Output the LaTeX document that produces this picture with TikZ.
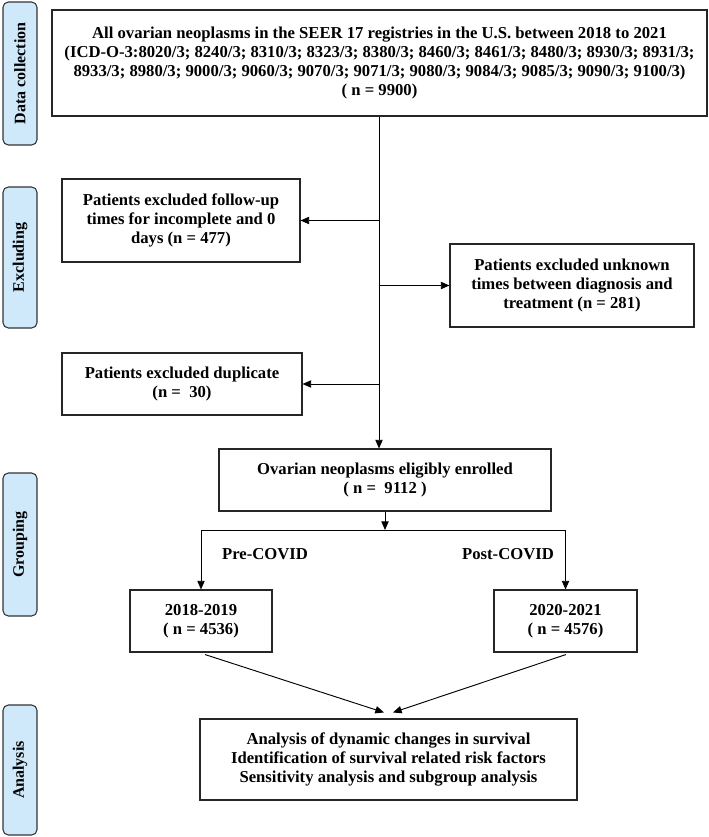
\documentclass[tikz,border=0pt]{standalone}
\usepackage{fontspec}
\setmainfont{Liberation Serif}
\usetikzlibrary{arrows.meta,calc}
\begin{document}
\begin{tikzpicture}[x=0.75pt,y=-0.75pt,
  box/.style={draw=black!85,line width=0.8pt,align=center,font=\fontsize{12.5}{14.25}\selectfont\bfseries,inner sep=2pt},
  side/.style={draw=black!80,line width=0.8pt,fill=sidefill,rounded corners=4pt,rotate=90,
    minimum height=25.5pt,font=\fontsize{12}{13}\selectfont\bfseries,inner sep=0pt},
  lab/.style={font=\fontsize{12.5}{14}\selectfont\bfseries},
  arr/.style={-{Triangle[length=6.5pt,width=5.5pt]},line width=0.7pt},
  ln/.style={line width=0.7pt}]
\definecolor{sidefill}{HTML}{CFE9FA}
\useasboundingbox (0,0) rectangle (708,837);
% side labels
\node[side,minimum width=107.25pt] (sdc) at (20,73.5) {Data collection};
\node[side,minimum width=105.75pt] (sex) at (20,257.5) {Excluding};
\node[side,minimum width=107.25pt] (sgr) at (20,544.5) {Grouping};
\node[side,minimum width=97.5pt] (san) at (20,770) {Analysis};
% boxes
\node[box,minimum width=491.25pt,minimum height=79.5pt] (top) at (379.5,63)
  {All ovarian neoplasms in the SEER 17 registries in the U.S. between 2018 to 2021\\
   (ICD-O-3:8020/3; 8240/3; 8310/3; 8323/3; 8380/3; 8460/3; 8461/3; 8480/3; 8930/3; 8931/3;\\
   8933/3; 8980/3; 9000/3; 9060/3; 9070/3; 9071/3; 9080/3; 9084/3; 9085/3; 9090/3; 9100/3)\\
   ( n = 9900)};
\node[box,minimum width=178.5pt,minimum height=62.25pt] (fu) at (181,220.5)
  {Patients excluded follow-up\\times for incomplete and 0\\days (n = 477)};
\node[box,minimum width=183pt,minimum height=62.25pt] (unk) at (572,285.5)
  {Patients excluded unknown\\times between diagnosis and\\treatment (n = 281)};
\node[box,minimum width=180pt,minimum height=46.5pt] (dup) at (182,384)
  {Patients excluded duplicate\\(n =\ \ 30)};
\node[box,minimum width=249pt,minimum height=46.5pt] (enr) at (385,480)
  {Ovarian neoplasms eligibly enrolled\\( n =\ \ 9112 )};
\node[box,minimum width=106.5pt,minimum height=46.5pt] (g1) at (201,621)
  {2018-2019\\( n = 4536)};
\node[box,minimum width=107.25pt,minimum height=46.5pt] (g2) at (565.5,621)
  {2020-2021\\( n = 4576)};
\node[box,minimum width=282.75pt,minimum height=60.75pt] (ana) at (388.5,759.5)
  {Analysis of dynamic changes in survival\\Identification of survival related risk factors\\Sensitivity analysis and subgroup analysis};
\node[lab] (pre) at (265,554) {Pre-COVID};
\node[lab] (post) at (508,554) {Post-COVID};
% connectors
\coordinate (mx) at (379,0);
\coordinate (sp) at (0,530);
\draw[arr] (top.south -| mx) -- (enr.north -| mx);
\draw[arr] (fu.east -| mx) -- (fu.east);
\draw[arr] (unk.west -| mx) -- (unk.west);
\draw[arr] (dup.east -| mx) -- (dup.east);
\draw[arr] (enr.south) -- (enr.south |- sp);
\draw[ln] (g1.north |- sp) -- (g2.north |- sp);
\draw[arr] (g1.north |- sp) -- (g1.north);
\draw[arr] (g2.north |- sp) -- (g2.north);
\draw[arr] ($(g1.south)+(4,2)$) -- ($(ana.north)+(-4.5,-6)$);
\draw[arr] ($(g2.south)+(0.5,2)$) -- ($(ana.north)+(4.5,-6)$);
\end{tikzpicture}
\end{document}
